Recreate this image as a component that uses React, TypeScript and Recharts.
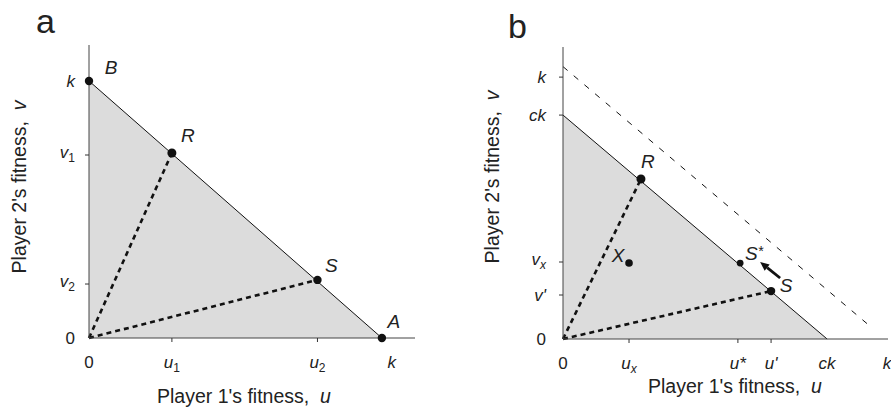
import {
  ComposedChart,
  XAxis,
  YAxis,
  Area,
  Scatter,
  ReferenceLine,
} from "recharts";

const FONT = "'Liberation Sans', Arial, sans-serif";
const INK = "#111";

// panel a: payoff frontier u + v = k
const frontierA = [
  { u: 0, v: 1 },
  { u: 1, v: 0 },
];
const pointsA = [
  { name: "B", u: 0, v: 1 },
  { name: "R", u: 0.283, v: 0.72 },
  { name: "S", u: 0.78, v: 0.226 },
  { name: "A", u: 1, v: 0 },
];
const xTicksA = [0, 0.283, 0.78, 1.034];
const xLabelsA = ["0", "u_1", "u_2", "k"];
const yTicksA = [0, 0.21, 0.712, 1];
const yLabelsA = ["0", "v_2", "v_1", "k"];

// panel b: reduced frontier u + v = ck, old frontier dashed
const frontierB = [
  { u: 0, v: 0.855 },
  { u: 0.82, v: 0 },
];
const oldFrontierB = [
  { u: 0, v: 1.04 },
  { u: 0.96, v: 0.042 },
];
const pointsB = [
  { name: "R", u: 0.242, v: 0.611 },
  { name: "X", u: 0.205, v: 0.29 },
  { name: "S*", u: 0.55, v: 0.29 },
  { name: "S", u: 0.646, v: 0.183 },
];
const arrowB = [
  { u: 0.674, v: 0.233 },
  { u: 0.612, v: 0.294 },
];
const xTicksB = [0, 0.205, 0.543, 0.646, 0.82, 1.006];
const xLabelsB = ["0", "u_x", "u*", "u'", "ck", "k"];
const yTicksB = [0, 0.168, 0.294, 0.855, 1];
const yLabelsB = ["0", "v'", "v_x", "ck", "k"];

const unmarked = ["0", "k", "ck"];

const labelOffset: Record<string, [number, number]> = {
  aB: [22, -7],
  aR: [16, -11],
  aS: [14, -8],
  aA: [12, -10],
  bR: [7, -11],
  bX: [-11, -1],
  bS: [15, 1],
  "bS*": [14, -3],
};
const dotSize: Record<string, number> = { R: 4.5, X: 3.8, "S*": 3.4 };

const TickText = ({ x, y, text, anchor }: any) => {
  const [main, sub] = text.split("_");
  return (
    <text
      x={x}
      y={y}
      textAnchor={anchor}
      fontFamily={FONT}
      fontSize={17}
      fill="#222"
      fontStyle={main === "0" ? "normal" : "italic"}
    >
      <tspan>{main}</tspan>
      {sub && (
        <tspan fontSize={12} dy={4} fontStyle={/\d/.test(sub) ? "normal" : "italic"}>
          {sub}
        </tspan>
      )}
    </text>
  );
};

const makeXTick = (ticks: number[], labels: string[]) => (props: any) => {
  const { x, y, payload } = props;
  const text = labels[ticks.indexOf(payload.value)] ?? "";
  return (
    <g>
      {!unmarked.includes(text) && (
        <line x1={x} y1={y} x2={x} y2={y + 4} stroke="#333" />
      )}
      <TickText x={x} y={y + 30} text={text} anchor="middle" />
    </g>
  );
};

const makeYTick = (ticks: number[], labels: string[], gap: number, marked: string[]) => (
  props: any
) => {
  const { x, y, payload } = props;
  const text = labels[ticks.indexOf(payload.value)] ?? "";
  const hasSub = text.includes("_");
  return (
    <g>
      {marked.includes(text) && (
        <line x1={x - 4} y1={y} x2={x} y2={y} stroke="#333" />
      )}
      <TickText x={x - gap} y={y + (hasSub ? 3 : 6)} text={text} anchor="end" />
    </g>
  );
};

const makeDot = (panel: string) => (props: any) => {
  const { cx, cy, payload } = props;
  const name: string = payload.name;
  const [dx, dy] = labelOffset[panel + name] ?? [10, -10];
  const main = name.replace("*", "");
  return (
    <g>
      <circle cx={cx} cy={cy} r={dotSize[name] ?? 4.2} fill={INK} />
      <text
        x={cx + dx}
        y={cy + dy}
        textAnchor="middle"
        fontFamily={FONT}
        fontSize={19}
        fontStyle="italic"
        fill="#222"
      >
        {main}
        {name.includes("*") && (
          <tspan fontSize={14} dy={-4}>
            *
          </tspan>
        )}
      </text>
    </g>
  );
};

const Arrow = (props: any) => {
  const { x1, y1, x2, y2 } = props;
  const a = Math.atan2(y2 - y1, x2 - x1);
  const c = Math.cos(a);
  const s = Math.sin(a);
  const bx = x2 - 9 * c;
  const by = y2 - 9 * s;
  const pts = `${x2},${y2} ${bx - 4 * s},${by + 4 * c} ${bx + 4 * s},${by - 4 * c}`;
  return (
    <g>
      <line x1={x1} y1={y1} x2={bx} y2={by} stroke={INK} strokeWidth={2.8} />
      <polygon points={pts} fill={INK} />
    </g>
  );
};

const dashed = { stroke: INK, strokeWidth: 2.6, strokeDasharray: "5 4" };

const title: React.CSSProperties = {
  position: "absolute",
  fontFamily: FONT,
  fontSize: 19.5,
  color: "#222",
  whiteSpace: "pre",
  lineHeight: "22px",
};

const letter: React.CSSProperties = {
  position: "absolute",
  fontFamily: FONT,
  fontSize: 34,
  lineHeight: "34px",
  color: "#222",
};

const App = () => {
  return (
    <div style={{ position: "absolute", left: 0, top: 0, width: 891, height: 407, background: "#fff" }}>
      <div style={{ ...letter, left: 36, top: 4 }}>a</div>
      <div style={{ ...letter, left: 508, top: 9 }}>b</div>

      <div style={{ position: "absolute", left: 0, top: 0 }}>
        <ComposedChart
          width={445}
          height={407}
          data={frontierA}
          margin={{ top: 45, right: 30, bottom: 39, left: 29 }}
        >
          <XAxis
            type="number"
            dataKey="u"
            domain={[0, 1.113]}
            ticks={xTicksA}
            interval={0}
            height={30}
            tickSize={0}
            tickMargin={0}
            tickLine={false}
            axisLine={{ stroke: "#444" }}
            tick={makeXTick(xTicksA, xLabelsA)}
          />
          <YAxis
            type="number"
            dataKey="v"
            domain={[0, 1.14]}
            ticks={yTicksA}
            interval={0}
            width={60}
            tickSize={0}
            tickMargin={0}
            tickLine={false}
            axisLine={{ stroke: "#444" }}
            tick={makeYTick(yTicksA, yLabelsA, 14, ["v_1", "v_2"])}
          />
          <Area
            type="linear"
            dataKey="v"
            fill="#dcdcdc"
            fillOpacity={1}
            stroke={INK}
            strokeWidth={1}
            isAnimationActive={false}
          />
          <ReferenceLine segment={[{ x: 0, y: 0 }, { x: pointsA[1].u, y: pointsA[1].v }]} {...dashed} />
          <ReferenceLine segment={[{ x: 0, y: 0 }, { x: pointsA[2].u, y: pointsA[2].v }]} {...dashed} />
          <Scatter data={pointsA} dataKey="v" shape={makeDot("a")} isAnimationActive={false} />
        </ComposedChart>
      </div>

      <div style={{ position: "absolute", left: 445, top: 0 }}>
        <ComposedChart
          width={446}
          height={407}
          data={frontierB}
          margin={{ top: 47, right: 3, bottom: 38, left: 58 }}
        >
          <XAxis
            type="number"
            dataKey="u"
            domain={[0, 1.009]}
            ticks={xTicksB}
            interval={0}
            height={30}
            tickSize={0}
            tickMargin={0}
            tickLine={false}
            axisLine={{ stroke: "#444" }}
            tick={makeXTick(xTicksB, xLabelsB)}
          />
          <YAxis
            type="number"
            dataKey="v"
            domain={[0, 1.115]}
            ticks={yTicksB}
            interval={0}
            width={60}
            tickSize={0}
            tickMargin={0}
            tickLine={false}
            axisLine={{ stroke: "#444" }}
            tick={makeYTick(yTicksB, yLabelsB, 17, ["v'", "v_x", "ck", "k"])}
          />
          <Area
            type="linear"
            dataKey="v"
            fill="#dcdcdc"
            fillOpacity={1}
            stroke={INK}
            strokeWidth={1}
            isAnimationActive={false}
          />
          <ReferenceLine
            segment={[
              { x: oldFrontierB[0].u, y: oldFrontierB[0].v },
              { x: oldFrontierB[1].u, y: oldFrontierB[1].v },
            ]}
            stroke={INK}
            strokeWidth={1}
            strokeDasharray="6 8"
          />
          <ReferenceLine segment={[{ x: 0, y: 0 }, { x: pointsB[0].u, y: pointsB[0].v }]} {...dashed} />
          <ReferenceLine segment={[{ x: 0, y: 0 }, { x: pointsB[3].u, y: pointsB[3].v }]} {...dashed} />
          <ReferenceLine
            segment={[
              { x: arrowB[0].u, y: arrowB[0].v },
              { x: arrowB[1].u, y: arrowB[1].v },
            ]}
            shape={Arrow}
          />
          <Scatter data={pointsB} dataKey="v" shape={makeDot("b")} isAnimationActive={false} />
        </ComposedChart>
      </div>

      <div style={{ ...title, left: 157, top: 385 }}>
        Player 1's fitness,  <i>u</i>
      </div>
      <div style={{ ...title, left: 648, top: 375 }}>
        Player 1's fitness,  <i>u</i>
      </div>
      <div
        style={{
          ...title,
          left: 19,
          top: 187,
          transform: "translate(-50%, -50%) rotate(-90deg)",
        }}
      >
        Player 2's fitness,  <i>v</i>
      </div>
      <div
        style={{
          ...title,
          left: 492,
          top: 177,
          transform: "translate(-50%, -50%) rotate(-90deg)",
        }}
      >
        Player 2's fitness,  <i>v</i>
      </div>
    </div>
  );
};

export default App;
